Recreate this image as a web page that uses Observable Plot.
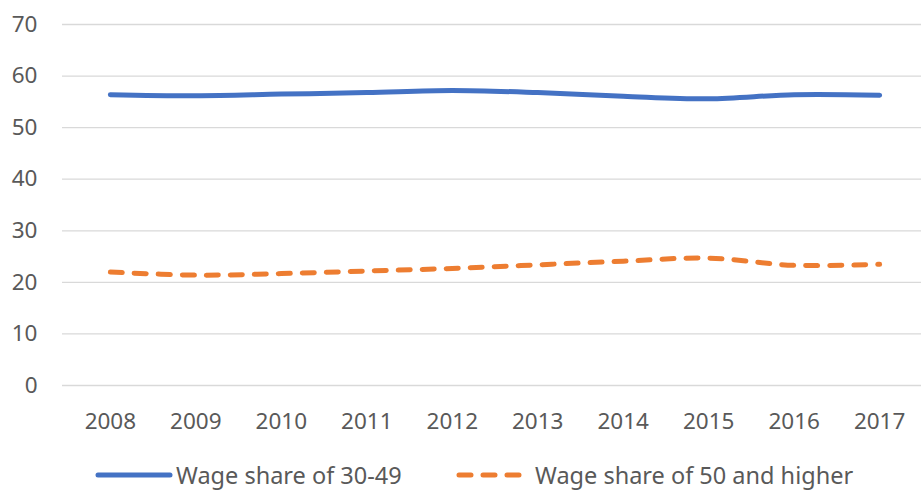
<!DOCTYPE html>
<html>
<head>
<meta charset="utf-8">
<script src="https://cdn.jsdelivr.net/npm/d3@7"></script>
<script src="https://cdn.jsdelivr.net/npm/@observablehq/plot@0.6"></script>
<style>
  html, body { margin: 0; padding: 0; background: #fff; overflow: hidden; }
  #chart { width: 921px; font-family: "Noto Sans", sans-serif; }
  #legend { position: relative; width: 921px; height: 51px; font-family: "Noto Sans", sans-serif; font-size: 23.5px; color: #595959; }
  .item { position: absolute; top: 9px; height: 51px; display: flex; align-items: center; }
  .item svg { margin-right: 3px; }
</style>
</head>
<body>
<div id="chart"></div>
<div id="legend"></div>
<script>
const years = [2008, 2009, 2010, 2011, 2012, 2013, 2014, 2015, 2016, 2017];
const wage30to49 = [56.4, 56.2, 56.5, 56.8, 57.2, 56.8, 56.1, 55.6, 56.4, 56.3];
const wage50plus = [22.0, 21.4, 21.7, 22.2, 22.7, 23.4, 24.1, 24.7, 23.3, 23.5];
const yTicks = [0, 10, 20, 30, 40, 50, 60, 70];
const seriesNames = ["Wage share of 30-49", "Wage share of 50 and higher"];
const colors = ["#4472C4", "#ED7D31"];

const rows30 = years.map((y, i) => ({year: y, value: wage30to49[i]}));
const rows50 = years.map((y, i) => ({year: y, value: wage50plus[i]}));

const chart = Plot.plot({
  width: 921,
  height: 440,
  marginLeft: 62,
  marginRight: 0,
  marginTop: 24,
  marginBottom: 55,
  style: {fontFamily: "Noto Sans, sans-serif", fontSize: "22px", color: "#595959", background: "#fff"},
  x: {type: "linear", domain: [2007.44, 2017.49], ticks: years, tickFormat: d => String(d)},
  y: {domain: [0, 70], ticks: yTicks},
  marks: [
    Plot.ruleY(yTicks, {stroke: "#d9d9d9", strokeWidth: 1.3}),
    Plot.axisX({ticks: years, tickFormat: d => String(d), tickSize: 0, tickPadding: 28, label: null, fontSize: 22.5, fill: "#595959"}),
    Plot.axisY({ticks: yTicks, tickSize: 0, tickPadding: 25, label: null, fontSize: 22.5, fill: "#595959"}),
    Plot.line(rows30, {x: "year", y: "value", stroke: colors[0], strokeWidth: 5, strokeLinecap: "round", strokeLinejoin: "round", curve: "catmull-rom"}),
    Plot.line(rows50, {x: "year", y: "value", stroke: colors[1], strokeWidth: 5, strokeLinecap: "round", strokeDasharray: "12,12", curve: "catmull-rom"})
  ]
});
document.getElementById("chart").appendChild(chart);

// Legend
const legend = document.getElementById("legend");
const items = [
  {left: 95, name: seriesNames[0], color: colors[0], dash: null, w: 78},
  {left: 456, name: seriesNames[1], color: colors[1], dash: "12,12", w: 76}
];
items.forEach(it => {
  const div = document.createElement("div");
  div.className = "item";
  div.style.left = it.left + "px";
  const ns = "http://www.w3.org/2000/svg";
  const s = document.createElementNS(ns, "svg");
  s.setAttribute("width", it.w);
  s.setAttribute("height", 12);
  const l = document.createElementNS(ns, "line");
  l.setAttribute("x1", 3); l.setAttribute("x2", it.w - 3);
  l.setAttribute("y1", 6); l.setAttribute("y2", 6);
  l.setAttribute("stroke", it.color);
  l.setAttribute("stroke-width", 5);
  l.setAttribute("stroke-linecap", "round");
  if (it.dash) l.setAttribute("stroke-dasharray", it.dash);
  s.appendChild(l);
  div.appendChild(s);
  const t = document.createElement("span");
  t.textContent = it.name;
  div.appendChild(t);
  legend.appendChild(div);
});
</script>
</body>
</html>
